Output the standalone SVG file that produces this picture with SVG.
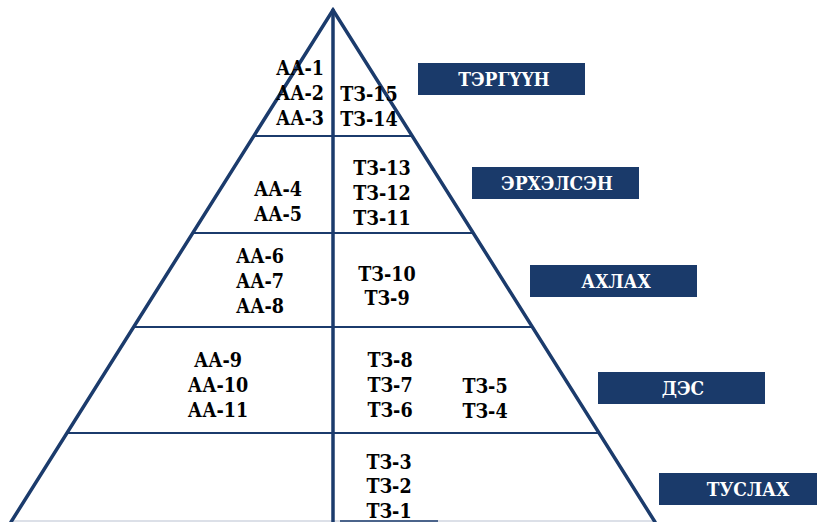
<svg xmlns="http://www.w3.org/2000/svg" width="817" height="522" viewBox="0 0 817 522">
<style>
.edge{stroke:#1b3b6c;stroke-width:3.5;fill:none;stroke-linecap:round}
.hl{stroke:#1b3b6c;stroke-width:2.2;fill:none}
.lbl{font-family:"DejaVu Serif Condensed","DejaVu Serif","Liberation Serif",serif;font-stretch:condensed;font-weight:bold;font-size:19.5px;fill:#000;text-anchor:middle}
.box{fill:#1a3a6a}
.bt{font-family:"DejaVu Serif Condensed","DejaVu Serif","Liberation Serif",serif;font-stretch:condensed;font-weight:bold;font-size:19px;fill:#fff;text-anchor:middle}
</style>
<rect width="817" height="522" fill="#fff"/>
<g id="connectors">
<line class="hl" x1="253" y1="136" x2="413" y2="136"/>
<line class="hl" x1="192" y1="233" x2="474" y2="233"/>
<line class="hl" x1="133" y1="327" x2="533" y2="327"/>
<line class="hl" x1="66" y1="433" x2="600" y2="433"/>
<line x1="11" y1="521" x2="655" y2="521" stroke="#d0d6e0" stroke-width="1.5"/>
<line x1="340" y1="521" x2="438" y2="521" stroke="#1b3b6c" stroke-width="1.5"/>
<polyline class="edge" points="11,522 333,10 655,522"/>
<line class="edge" x1="333" y1="10" x2="333" y2="522"/>
</g>
<g id="tier1">
<text class="lbl" x="300" y="75">АА-1</text>
<text class="lbl" x="300" y="100">АА-2</text>
<text class="lbl" x="300" y="125">АА-3</text>
<text class="lbl" x="369" y="101">ТЗ-15</text>
<text class="lbl" x="369" y="126">ТЗ-14</text>
</g>
<g id="tier2">
<text class="lbl" x="278" y="196">АА-4</text>
<text class="lbl" x="278" y="221">АА-5</text>
<text class="lbl" x="382" y="175">ТЗ-13</text>
<text class="lbl" x="382" y="200">ТЗ-12</text>
<text class="lbl" x="382" y="225">ТЗ-11</text>
</g>
<g id="tier3">
<text class="lbl" x="260" y="263">АА-6</text>
<text class="lbl" x="260" y="288">АА-7</text>
<text class="lbl" x="260" y="313">АА-8</text>
<text class="lbl" x="387" y="281">ТЗ-10</text>
<text class="lbl" x="387" y="305">ТЗ-9</text>
</g>
<g id="tier4">
<text class="lbl" x="218" y="367">АА-9</text>
<text class="lbl" x="218" y="392">АА-10</text>
<text class="lbl" x="218" y="417">АА-11</text>
<text class="lbl" x="390" y="367">ТЗ-8</text>
<text class="lbl" x="390" y="392">ТЗ-7</text>
<text class="lbl" x="390" y="417">ТЗ-6</text>
<text class="lbl" x="485" y="393">ТЗ-5</text>
<text class="lbl" x="485" y="418">ТЗ-4</text>
</g>
<g id="tier5">
<text class="lbl" x="389" y="469">ТЗ-3</text>
<text class="lbl" x="389" y="493">ТЗ-2</text>
<text class="lbl" x="389" y="518">ТЗ-1</text>
</g>
<g id="box-tergyyn">
<rect class="box" x="418" y="63" width="167" height="32"/>
<text class="bt" x="504" y="86">ТЭРГҮҮН</text>
</g>
<g id="box-erkhelsen">
<rect class="box" x="472" y="167" width="167" height="32"/>
<text class="bt" x="557" y="190">ЭРХЭЛСЭН</text>
</g>
<g id="box-akhlakh">
<rect class="box" x="530" y="265" width="167" height="32"/>
<text class="bt" x="616" y="288">АХЛАХ</text>
</g>
<g id="box-des">
<rect class="box" x="598" y="372" width="167" height="32"/>
<text class="bt" x="683" y="395">ДЭС</text>
</g>
<g id="box-tuslakh">
<rect class="box" x="659" y="473" width="167" height="32"/>
<text class="bt" x="748" y="496">ТУСЛАХ</text>
</g>
</svg>
